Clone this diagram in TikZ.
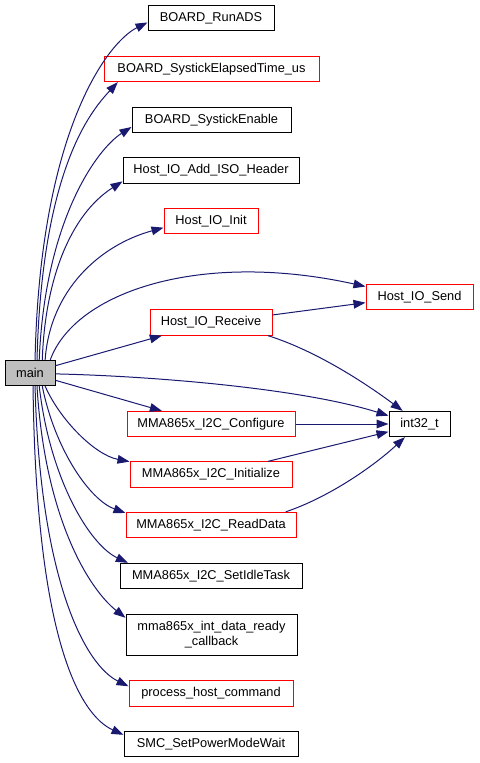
\documentclass[tikz,border=0pt]{standalone}
\usepackage{fontspec}
\setmainfont{Liberation Sans}
\usetikzlibrary{arrows.meta}
\definecolor{edgeblue}{HTML}{191970}
\definecolor{mainfill}{HTML}{BFBFBF}
\begin{document}
\begin{tikzpicture}[x=0.75pt,y=0.75pt,yscale=-1,xscale=1,
  fnbox/.style={draw=black, line width=0.75pt, inner sep=0pt, minimum height=19pt, font=\fontsize{9.6}{11.5}\selectfont},
  fnred/.style={fnbox, draw=red},
  calledge/.style={draw=edgeblue, line width=0.75pt, -{Triangle[length=9pt,width=6.5pt]}}]
\useasboundingbox (0,0) rectangle (479,763);

% Text Node
\node [fnbox, fill=mainfill, minimum width=37.5pt] (main) at (30,373) {main};
% Text Node
\node [fnbox, minimum width=94.5pt] (runads) at (211,18) {BOARD\_RunADS};
% Text Node
\node [fnred, minimum width=161.25pt] (elapsed) at (211.5,69) {BOARD\_SystickElapsedTime\_us};
% Text Node
\node [fnbox, minimum width=119.25pt] (sysenable) at (211.5,120) {BOARD\_SystickEnable};
% Text Node
\node [fnbox, minimum width=132pt] (addiso) at (211,170.5) {Host\_IO\_Add\_ISO\_Header};
% Text Node
\node [fnred, minimum width=70.5pt] (hostinit) at (211,221) {Host\_IO\_Init};
% Text Node
\node [fnred, minimum width=80.25pt] (hostsend) at (419.5,297) {Host\_IO\_Send};
% Text Node
\node [fnred, minimum width=91.5pt] (hostrecv) at (211,322.5) {Host\_IO\_Receive};
% Text Node
\node [fnbox, minimum width=45.75pt] (int32) at (419.5,424) {int32\_t};
% Text Node
\node [fnred, minimum width=126pt] (configure) at (211,424) {MMA865x\_I2C\_Configure};
% Text Node
\node [fnred, minimum width=121.5pt] (initialize) at (211,474.5) {MMA865x\_I2C\_Initialize};
% Text Node
\node [fnred, minimum width=127.5pt] (readdata) at (211,525) {MMA865x\_I2C\_ReadData};
% Text Node
\node [fnbox, minimum width=136.5pt] (setidle) at (211,576) {MMA865x\_I2C\_SetIdleTask};
% Text Node
\node [fnbox, minimum width=128.25pt, minimum height=30.75pt, align=center] (callback) at (211.5,634.5) {mma865x\_int\_data\_ready\\\_callback};
% Text Node
\node [fnred, minimum width=123pt] (processhost) at (211,693.5) {process\_host\_command};
% Text Node
\node [fnbox, minimum width=130.5pt] (smcwait) at (211,744) {SMC\_SetPowerModeWait};

%Curve Lines
\draw [calledge] (main.69) .. controls (40,130) and (108,42) .. (runads.184);
\draw [calledge] (main.62) .. controls (42,170) and (90,112) .. (elapsed.188);
\draw [calledge] (main.55) .. controls (45,220) and (97,149) .. (sysenable.185);
\draw [calledge] (main.47) .. controls (45,280) and (70,215) .. (addiso.187);
\draw [calledge] (main.41) .. controls (50,290) and (100,245) .. (hostinit.188);
\draw [calledge] (main.33) .. controls (75,292) and (200,250) .. (hostsend.169);
%Straight Lines
\draw [calledge] (main.16) -- (hostrecv.195);
\draw [calledge] (hostrecv.7) -- (hostsend.186);
%Curve Lines
\draw [calledge] (hostrecv.347) .. controls (320,352) and (372,388) .. (int32.142);
\draw [calledge] (main.358) .. controls (150,376) and (300,388) .. (int32.165);
%Straight Lines
\draw [calledge] (main.344) -- (configure.165);
\draw [calledge] (configure.east) -- (int32.west);
\draw [calledge] (initialize.13) -- (int32.194);
%Curve Lines
\draw [calledge] (readdata.10) .. controls (330,497) and (375,465) .. (int32.222);
\draw [calledge] (main.319) .. controls (60,420) and (95,455) .. (initialize.171);
\draw [calledge] (main.313) .. controls (55,450) and (90,500) .. (readdata.172);
\draw [calledge] (main.305) .. controls (50,480) and (90,545) .. (setidle.171);
\draw [calledge] (main.298) .. controls (45,520) and (90,590) .. (callback.169);
\draw [calledge] (main.291) .. controls (40,580) and (85,665) .. (processhost.175);
\draw [calledge] (main.283) .. controls (36,640) and (80,715) .. (smcwait.174);

\end{tikzpicture}
\end{document}
